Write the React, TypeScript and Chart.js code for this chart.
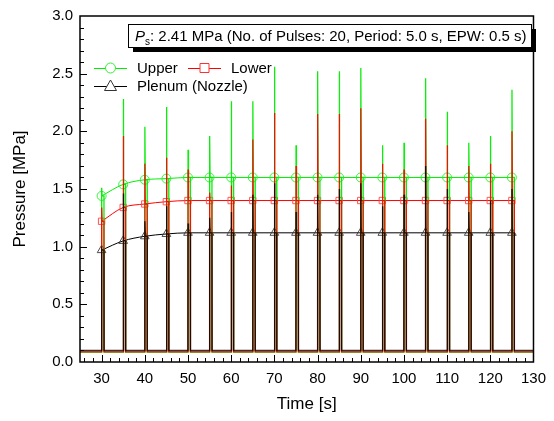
import React, { useEffect, useRef } from "react";
import { Chart, registerables } from "chart.js";
Chart.register(...registerables);

const pulseTimes = [30, 35, 40, 45, 50, 55, 60, 65, 70, 75, 80, 85, 90, 95, 100, 105, 110, 115, 120, 125];
const upperPlateau = [1.44, 1.54, 1.58, 1.59, 1.6, 1.6, 1.6, 1.6, 1.6, 1.6, 1.6, 1.6, 1.6, 1.6, 1.6, 1.6, 1.6, 1.6, 1.6, 1.6];
const lowerPlateau = [1.22, 1.34, 1.37, 1.39, 1.4, 1.4, 1.4, 1.4, 1.4, 1.4, 1.4, 1.4, 1.4, 1.4, 1.4, 1.4, 1.4, 1.4, 1.4, 1.4];
const plenumPlateau = [0.97, 1.05, 1.09, 1.11, 1.12, 1.12, 1.12, 1.12, 1.12, 1.12, 1.12, 1.12, 1.12, 1.12, 1.12, 1.12, 1.12, 1.12, 1.12, 1.12];
const upperPeak = [1.51, 2.28, 2.04, 2.21, 1.84, 1.96, 2.26, 2.26, 2.56, 1.88, 2.52, 2.52, 2.55, 1.88, 1.9, 2.46, 2.17, 1.9, 1.96, 2.36];
const lowerPeak = [1.34, 1.96, 1.72, 1.77, 1.67, 1.47, 1.53, 1.93, 2.16, 1.7, 2.15, 2.15, 2.2, 1.72, 1.67, 2.11, 1.88, 1.7, 1.72, 2.0];
const plenumPeak = [0.98, 1.46, 1.22, 1.35, 1.2, 1.25, 1.3, 1.45, 1.55, 1.3, 1.45, 1.5, 1.55, 1.35, 1.45, 1.7, 1.5, 1.3, 1.4, 1.5];
const upperBase = 0.085;
const lowerBase = 0.088;
const plenumBase = 0.1;
const xTickValues = [30, 40, 50, 60, 70, 80, 90, 100, 110, 120, 130];
const yTickValues = [0, 0.5, 1.0, 1.5, 2.0, 2.5, 3.0];

const FONT = "Arial, 'Liberation Sans', sans-serif";

function buildTrace(base: number, peaks: number[], plateaus: number[]) {
  const pts: { x: number; y: number }[] = [{ x: 25, y: base }];
  pulseTimes.forEach((t, i) => {
    pts.push(
      { x: t, y: base },
      { x: t + 0.02, y: peaks[i] },
      { x: t + 0.12, y: plateaus[i] },
      { x: t + 0.55, y: plateaus[i] },
      { x: t + 0.57, y: base }
    );
  });
  pts.push({ x: 130, y: base });
  return pts;
}

function markers(vals: number[]) {
  return pulseTimes.map((t, i) => ({ x: t, y: vals[i] }));
}

const decorPlugin = {
  id: "decor",
  afterDraw(chart: any) {
    const { ctx, chartArea: a, scales } = chart;
    const xs = scales.x;
    const ys = scales.y;
    ctx.save();
    // frame
    ctx.strokeStyle = "#000";
    ctx.lineWidth = 1.5;
    ctx.strokeRect(a.left, a.top, a.right - a.left, a.bottom - a.top);
    // ticks
    ctx.lineWidth = 1;
    ctx.beginPath();
    for (let v = 26; v <= 130; v += 2) {
      const x = Math.round(xs.getPixelForValue(v)) + 0.5;
      const len = v % 10 === 0 ? 7 : 4;
      ctx.moveTo(x, a.bottom);
      ctx.lineTo(x, a.bottom - len);
    }
    for (let k = 1; k < 30; k++) {
      const v = k / 10;
      const y = Math.round(ys.getPixelForValue(v)) + 0.5;
      const len = k % 5 === 0 ? 7 : 4;
      ctx.moveTo(a.left, y);
      ctx.lineTo(a.left + len, y);
    }
    ctx.stroke();

    // annotation box
    const bx = 128, by = 24, bw = 403, bh = 23;
    ctx.fillStyle = "#000";
    ctx.fillRect(bx + 5, by + 5, bw, bh);
    ctx.fillStyle = "#fff";
    ctx.fillRect(bx, by, bw, bh);
    ctx.lineWidth = 1;
    ctx.strokeStyle = "#000";
    ctx.strokeRect(bx + 0.5, by + 0.5, bw, bh);
    ctx.fillStyle = "#000";
    ctx.textBaseline = "alphabetic";
    ctx.textAlign = "left";
    let tx = 135;
    const ty = 41;
    ctx.font = `italic 15px ${FONT}`;
    ctx.fillText("P", tx, ty);
    tx += ctx.measureText("P").width;
    ctx.font = `10px ${FONT}`;
    ctx.fillText("s", tx, ty + 4);
    tx += ctx.measureText("s").width;
    ctx.font = `15px ${FONT}`;
    ctx.fillText(": 2.41 MPa (No. of Pulses: 20, Period: 5.0 s, EPW: 0.5 s)", tx, ty);

    // legend
    const drawEntry = (x0: number, y0: number, color: string, mcolor: string, shape: string, label: string) => {
      ctx.strokeStyle = color;
      ctx.lineWidth = 1;
      ctx.beginPath();
      ctx.moveTo(x0, y0 + 0.5);
      ctx.lineTo(x0 + 33, y0 + 0.5);
      ctx.stroke();
      const cx = x0 + 16.5;
      ctx.strokeStyle = mcolor;
      ctx.fillStyle = "#fff";
      ctx.beginPath();
      if (shape === "circle") {
        ctx.arc(cx, y0, 5, 0, Math.PI * 2);
      } else if (shape === "rect") {
        ctx.rect(cx - 4.5, y0 - 4.5, 9, 9);
      } else {
        ctx.moveTo(cx, y0 - 6);
        ctx.lineTo(cx + 6, y0 + 4.5);
        ctx.lineTo(cx - 6, y0 + 4.5);
        ctx.closePath();
      }
      ctx.fill();
      ctx.stroke();
      ctx.fillStyle = "#000";
      ctx.font = `15px ${FONT}`;
      ctx.textBaseline = "middle";
      ctx.fillText(label, x0 + 43, y0 + 1);
    };
    drawEntry(94, 68, "#00ee00", "#33ee33", "circle", "Upper");
    drawEntry(188, 68, "#ff0000", "#ff3030", "rect", "Lower");
    drawEntry(94, 86, "#000000", "#333333", "triangle", "Plenum (Nozzle)");
    ctx.restore();
  },
};

export default function App() {
  const ref = useRef<HTMLCanvasElement | null>(null);
  useEffect(() => {
    document.body.style.margin = "0";
    const canvas = ref.current;
    if (!canvas) return;
    const chart = new Chart(canvas, {
      type: "line",
      data: {
        datasets: [
          {
            label: "Plenum trace",
            data: buildTrace(plenumBase, plenumPeak, plenumPlateau),
            borderColor: "rgba(0,0,0,0.8)",
            borderWidth: 1.4,
            pointRadius: 0,
            tension: 0,
            order: 1,
          },
          {
            label: "Lower trace",
            data: buildTrace(lowerBase, lowerPeak, lowerPlateau),
            borderColor: "rgba(255,0,0,0.9)",
            borderWidth: 1.3,
            pointRadius: 0,
            tension: 0,
            order: 2,
          },
          {
            label: "Upper trace",
            data: buildTrace(upperBase, upperPeak, upperPlateau),
            borderColor: "rgba(0,235,0,0.95)",
            borderWidth: 1.3,
            pointRadius: 0,
            tension: 0,
            order: 3,
          },
          {
            label: "Plenum (Nozzle)",
            data: markers(plenumPlateau),
            borderColor: "#000",
            borderWidth: 1,
            pointStyle: "triangle",
            pointRadius: 5,
            pointBorderColor: "rgba(60,60,60,0.9)",
            pointBackgroundColor: "rgba(255,255,255,0)",
            cubicInterpolationMode: "monotone",
            order: 4,
          },
          {
            label: "Lower",
            data: markers(lowerPlateau),
            borderColor: "#ff0000",
            borderWidth: 1,
            pointStyle: "rect",
            pointRadius: 4.5,
            pointBorderColor: "rgba(255,70,70,0.9)",
            pointBackgroundColor: "rgba(255,255,255,0)",
            cubicInterpolationMode: "monotone",
            order: 5,
          },
          {
            label: "Upper",
            data: markers(upperPlateau),
            borderColor: "#00ee00",
            borderWidth: 1,
            pointStyle: "circle",
            pointRadius: 4.5,
            pointBorderColor: "rgba(40,240,40,0.9)",
            pointBackgroundColor: "rgba(255,255,255,0)",
            cubicInterpolationMode: "monotone",
            order: 6,
          },
        ],
      },
      options: {
        animation: false,
        responsive: true,
        maintainAspectRatio: false,
        layout: { padding: { top: 14, right: 13, left: 0, bottom: 0 } },
        plugins: { legend: { display: false }, tooltip: { enabled: false } },
        scales: {
          x: {
            type: "linear",
            min: 25,
            max: 130,
            afterBuildTicks: (s: any) => {
              s.ticks = xTickValues.map((v) => ({ value: v }));
            },
            afterFit: (s: any) => {
              s.height = 59;
            },
            grid: { display: false, drawTicks: false },
            border: { display: false },
            ticks: { color: "#000", font: { size: 15, family: FONT }, padding: 8, autoSkip: false, maxRotation: 0 },
            title: { display: true, text: "Time [s]", color: "#000", font: { size: 17, family: FONT }, padding: { top: 0, bottom: 6 } },
          },
          y: {
            type: "linear",
            min: 0,
            max: 3,
            afterBuildTicks: (s: any) => {
              s.ticks = yTickValues.map((v) => ({ value: v }));
            },
            afterFit: (s: any) => {
              s.width = 80;
            },
            grid: { display: false, drawTicks: false },
            border: { display: false },
            ticks: {
              color: "#000",
              font: { size: 15, family: FONT },
              padding: 7,
              autoSkip: false,
              callback: (v: any) => Number(v).toFixed(1),
            },
            title: { display: true, text: "Pressure [MPa]", color: "#000", font: { size: 17, family: FONT }, padding: { top: 10, bottom: 0 } },
          },
        },
      },
      plugins: [decorPlugin],
    });
    return () => chart.destroy();
  }, []);
  return (
    <div style={{ position: "relative", width: 554, height: 421 }}>
      <canvas ref={ref} />
    </div>
  );
}
